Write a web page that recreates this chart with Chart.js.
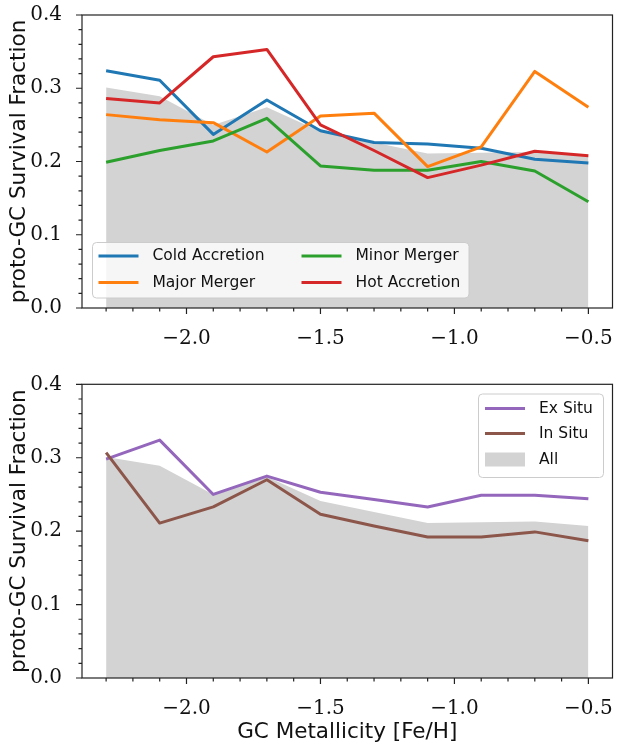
<!DOCTYPE html>
<html>
<head>
<meta charset="utf-8">
<script src="https://cdn.jsdelivr.net/npm/chart.js@4.4.0/dist/chart.umd.min.js"></script>
<style>
body { margin: 0; background: #fff; }
#wrap { position: relative; width: 617px; height: 747px; }
canvas { position: absolute; left: 0; }
</style>
</head>
<body>
<div id="wrap">
	<canvas id="chart-top" width="617" height="370" style="top:0px"></canvas>
	<canvas id="chart-bottom" width="617" height="377" style="top:370px"></canvas>
</div>
<script>
// data
const metallicity = [-2.3, -2.1, -1.9, -1.7, -1.5, -1.3, -1.1, -0.9, -0.7, -0.5];
const allGCs = [0.301, 0.289, 0.250, 0.274, 0.241, 0.226, 0.211, 0.212, 0.213, 0.207];
const coldAccretion = [0.324, 0.311, 0.237, 0.284, 0.242, 0.226, 0.224, 0.218, 0.203, 0.198];
const majorMerger = [0.264, 0.257, 0.253, 0.213, 0.262, 0.266, 0.193, 0.220, 0.323, 0.274];
const minorMerger = [0.199, 0.215, 0.228, 0.259, 0.194, 0.188, 0.188, 0.200, 0.187, 0.145];
const hotAccretion = [0.286, 0.280, 0.343, 0.353, 0.250, 0.215, 0.178, 0.195, 0.214, 0.208];
const exSitu = [0.298, 0.324, 0.250, 0.275, 0.253, 0.243, 0.233, 0.249, 0.249, 0.244];
const inSitu = [0.307, 0.211, 0.233, 0.270, 0.223, 0.207, 0.192, 0.192, 0.199, 0.187];

const xTicks = [-2.0, -1.5, -1.0, -0.5];
const xMinorTicks = [-2.3, -2.2, -2.1, -1.9, -1.8, -1.7, -1.6, -1.4, -1.3, -1.2, -1.1, -0.9, -0.8, -0.7, -0.6];
const yTicks = [0.0, 0.1, 0.2, 0.3, 0.4];
const yMinorTicks = [0.02, 0.04, 0.06, 0.08, 0.12, 0.14, 0.16, 0.18, 0.22, 0.24, 0.26, 0.28, 0.32, 0.34, 0.36, 0.38];

const SANS = '"DejaVu Sans", sans-serif';
const SERIF = '"DejaVu Serif", serif';

function pts(ys) {
	return metallicity.map((x, i) => ({ x: x, y: ys[i] }));
}

function lineSet(label, values, color, order) {
	return {
		label: label,
		data: pts(values),
		borderColor: color,
		backgroundColor: color,
		borderWidth: 3,
		borderJoinStyle: 'round',
		pointRadius: 0,
		fill: false,
		order: order
	};
}

function fillSet(label, values) {
	return {
		label: label,
		data: pts(values),
		borderWidth: 0,
		borderColor: 'rgba(0,0,0,0)',
		backgroundColor: '#d3d3d3',
		pointRadius: 0,
		fill: 'origin',
		order: 100
	};
}

// box, ticks (outward) and minor ticks like matplotlib
const axesFrame = {
	id: 'axesFrame',
	afterDatasetsDraw(chart) {
		const ctx = chart.ctx;
		const a = chart.chartArea;
		const xs = chart.scales.x, ys = chart.scales.y;
		ctx.save();
		ctx.strokeStyle = '#222';
		ctx.lineWidth = 1.2;
		ctx.beginPath();
		xTicks.forEach(v => { const p = xs.getPixelForValue(v); ctx.moveTo(p, a.bottom); ctx.lineTo(p, a.bottom + 6); });
		xMinorTicks.forEach(v => { const p = xs.getPixelForValue(v); ctx.moveTo(p, a.bottom); ctx.lineTo(p, a.bottom + 3.5); });
		yTicks.forEach(v => { const p = ys.getPixelForValue(v); ctx.moveTo(a.left, p); ctx.lineTo(a.left - 6, p); });
		yMinorTicks.forEach(v => { const p = ys.getPixelForValue(v); ctx.moveTo(a.left, p); ctx.lineTo(a.left - 3.5, p); });
		ctx.stroke();
		ctx.strokeRect(a.left, a.top, a.right - a.left, a.bottom - a.top);
		ctx.restore();
	}
};

// legend drawn inside the axes, matplotlib style
const boxLegend = {
	id: 'boxLegend',
	afterDraw(chart, args, opts) {
		if (!opts.labels) return;
		const ctx = chart.ctx;
		ctx.save();
		ctx.beginPath();
		ctx.roundRect(opts.box[0], opts.box[1], opts.box[2], opts.box[3], 4);
		ctx.fillStyle = 'rgba(255,255,255,0.8)';
		ctx.fill();
		ctx.strokeStyle = '#cccccc';
		ctx.lineWidth = 1;
		ctx.stroke();
		ctx.font = '15.5px ' + SANS;
		ctx.textBaseline = 'middle';
		opts.labels.forEach((lab, i) => {
			const ds = chart.data.datasets.find(d => d.label === lab);
			const col = Math.floor(i / opts.rows.length);
			const y = opts.rows[i % opts.rows.length];
			const x = opts.cols[col];
			if (ds.fill) {
				ctx.fillStyle = ds.backgroundColor;
				ctx.fillRect(x, y - 7, 40, 14);
			} else {
				ctx.strokeStyle = ds.borderColor;
				ctx.lineWidth = 3;
				ctx.beginPath();
				ctx.moveTo(x, y);
				ctx.lineTo(x + 40, y);
				ctx.stroke();
			}
			ctx.fillStyle = '#111';
			ctx.fillText(lab, x + 54, y);
		});
		ctx.restore();
	}
};

function makePanel(id, datasets, legendOpts, xTitle, padTop, xHeight) {
	const span = metallicity[metallicity.length - 1] - metallicity[0];
	const config = {
		type: 'line',
		data: { datasets: datasets },
		options: {
			responsive: false,
			animation: false,
			layout: { padding: { top: padTop, right: 4.5, left: 0, bottom: 0 } },
			plugins: {
				legend: { display: false },
				tooltip: { enabled: false },
				boxLegend: legendOpts
			},
			scales: {
				x: {
					type: 'linear',
					min: metallicity[0] - 0.05 * span,
					max: metallicity[metallicity.length - 1] + 0.05 * span,
					grid: { display: false },
					border: { display: false },
					afterBuildTicks: s => { s.ticks = xTicks.map(v => ({ value: v })); },
					afterFit: s => { s.height = xHeight; s.paddingLeft = 0; s.paddingRight = 0; },
					ticks: {
						padding: 11,
						maxRotation: 0,
						color: '#111',
						font: { family: SERIF, size: 20 },
						callback: v => v.toFixed(1).replace('-', '\u2212')
					},
					title: {
						display: !!xTitle,
						text: xTitle || '',
						color: '#111',
						font: { family: SANS, size: 21.5 },
						padding: { top: 0, bottom: 2 }
					}
				},
				y: {
					min: 0,
					max: 0.4,
					grid: { display: false },
					border: { display: false },
					afterBuildTicks: s => { s.ticks = yTicks.map(v => ({ value: v })); },
					afterFit: s => { s.width = 82; s.paddingTop = 0; s.paddingBottom = 0; },
					ticks: {
						padding: 12,
						color: '#111',
						font: { family: SERIF, size: 20 },
						callback: v => v.toFixed(1)
					},
					title: {
						display: true,
						text: 'proto-GC Survival Fraction',
						color: '#111',
						font: { family: SANS, size: 21.5 },
						padding: { top: 7, bottom: 0 }
					}
				}
			}
		},
		plugins: [axesFrame, boxLegend]
	};
	const ctx = document.getElementById(id).getContext('2d');
	return new Chart(ctx, config);
}

// top panel: formation channels
window.chartTop = makePanel('chart-top', [
	fillSet('All', allGCs),
	lineSet('Cold Accretion', coldAccretion, '#1f77b4', 4),
	lineSet('Major Merger', majorMerger, '#ff7f0e', 3),
	lineSet('Minor Merger', minorMerger, '#2ca02c', 2),
	lineSet('Hot Accretion', hotAccretion, '#d62728', 1)
], {
	labels: ['Cold Accretion', 'Major Merger', 'Minor Merger', 'Hot Accretion'],
	box: [92.5, 242.5, 376.5, 55.5],
	cols: [98.5, 301.5],
	rows: [256, 282.5]
}, null, 15, 62);

// bottom panel: ex situ / in situ
window.chartBottom = makePanel('chart-bottom', [
	fillSet('All', allGCs),
	lineSet('Ex Situ', exSitu, '#9467bd', 2),
	lineSet('In Situ', inSitu, '#8c564b', 1)
], {
	labels: ['Ex Situ', 'In Situ', 'All'],
	box: [478.5, 24, 125, 83.5],
	cols: [485],
	rows: [38.5, 63.5, 89.5]
}, 'GC Metallicity [Fe/H]', 14.3, 69);
</script>
</body>
</html>
